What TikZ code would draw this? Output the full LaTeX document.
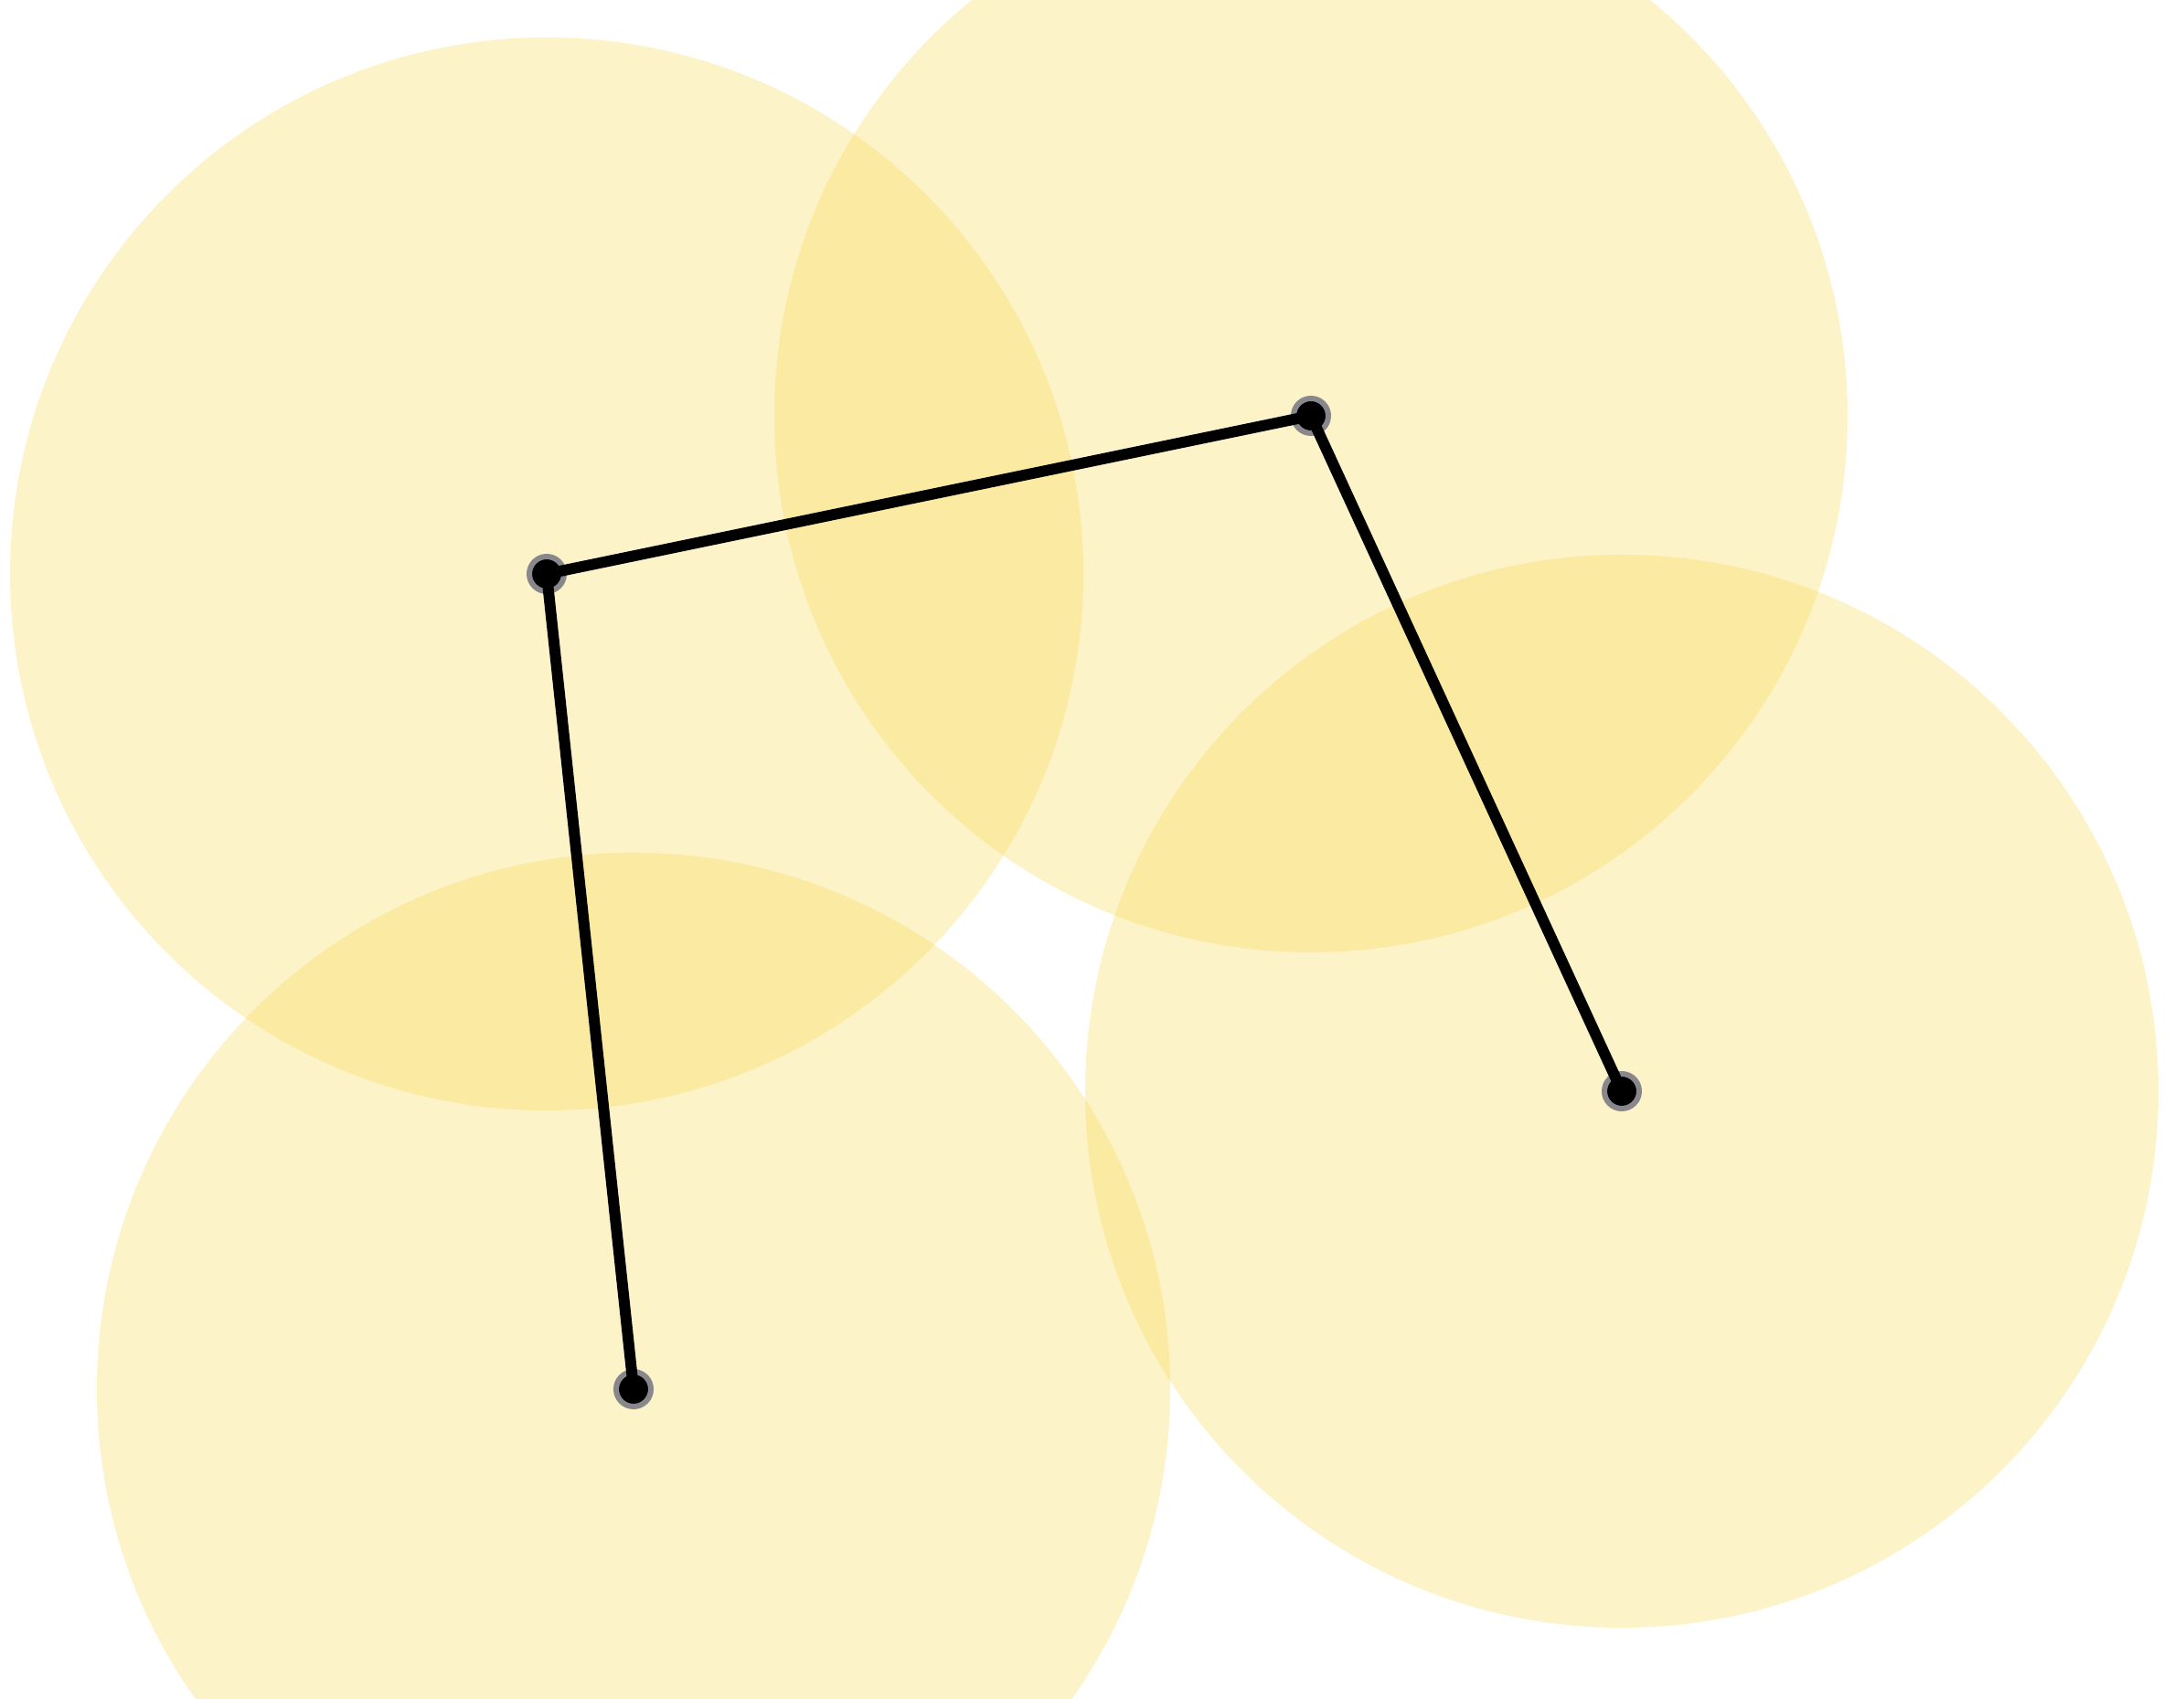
\documentclass[tikz,border=0pt]{standalone}

\definecolor{zonefill}{RGB}{248,214,72}
\definecolor{ringgray}{RGB}{135,135,140}

\begin{document}
\begin{tikzpicture}[
    zone/.style={fill=zonefill, fill opacity=0.3},
    site/.style={circle, fill=black, draw=ringgray, line width=0.06cm,
                 minimum size=0.38cm, inner sep=0pt},
    link/.style={line width=0.12cm, black}
]
    \useasboundingbox (0,0) rectangle (23.89,18.59);
    \clip (0,0) rectangle (23.89,18.59);

    % coverage discs
    \fill[zone] (5.98,12.31) circle (5.87);
    \fill[zone] (14.34,14.04) circle (5.87);
    \fill[zone] (17.74,6.65) circle (5.87);
    \fill[zone] (6.93,3.39) circle (5.87);

    \node[site] (sa) at (5.98,12.31) {};
    \node[site] (sb) at (14.34,14.04) {};
    \node[site] (sc) at (17.74,6.65) {};
    \node[site] (sd) at (6.93,3.39) {};

    \draw[link] (sa.center) -- (sb.center);
    \draw[link] (sb.center) -- (sc.center);
    \draw[link] (sa.center) -- (sd.center);
\end{tikzpicture}
\end{document}
